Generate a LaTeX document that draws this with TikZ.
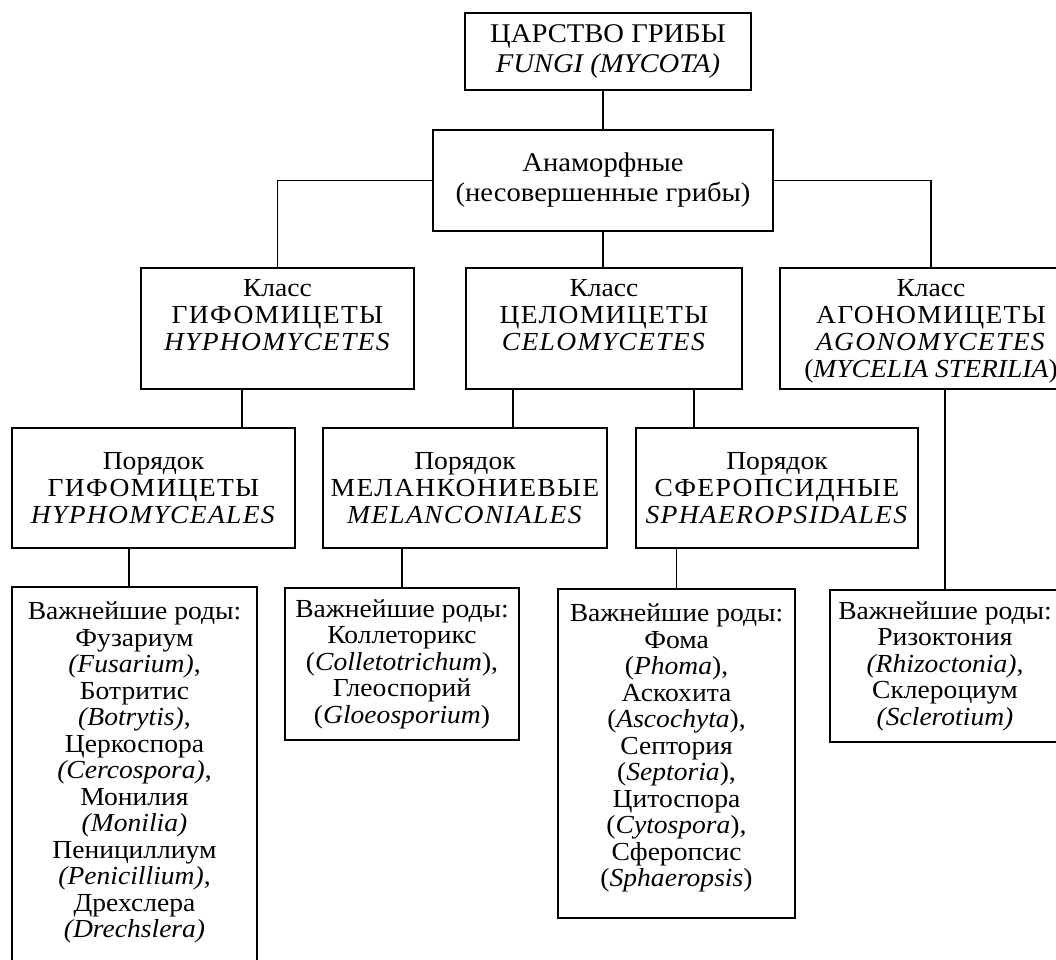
\documentclass[tikz,border=0pt]{standalone}
\usepackage{fontspec}
\setmainfont{Liberation Serif}[FakeStretch=1.06]
\usetikzlibrary{calc}
\tikzset{
  bx/.style={draw, line width=1.9pt, inner sep=0pt, outer sep=0pt},
  ln/.style={line width=1.9pt},
  big/.style={font={\fontsize{27}{30}\selectfont}},
  mid/.style={font={\fontsize{26}{27}\selectfont}},
  sml/.style={font={\fontsize{26}{26.5}\selectfont}},
}
\newcommand{\cbox}[3]{\parbox[c][#2][c]{#1}{\centering #3\par}}
\newcommand{\tbox}[4]{\parbox[c][#2][t]{#1}{\centering\vspace*{#3}#4\par}}
\newcommand{\lsp}[1]{{\addfontfeatures{LetterSpace=5}#1}}
\begin{document}
\begin{tikzpicture}[x=1pt,y=-1pt]
\useasboundingbox (0,0) rectangle (1056,959);
\fill[white] (0,0) rectangle (1056,959);
\clip (0,0) rectangle (1056,959);

% row 1 and 2
\node[bx,big] (top) at (608,51.5) {\cbox{286pt}{77pt}{ЦАРСТВО ГРИБЫ\\\textit{FUNGI (MYCOTA)}}};
\node[bx,big] (anam) at (603,180.5) {\cbox{340pt}{101pt}{Анаморфные\\(несовершенные грибы)}};

% classes
\node[bx,mid] (hcls) at (277.5,328.5) {\tbox{273pt}{121pt}{11pt}{Класс\\\lsp{ГИФОМИЦЕТЫ}\\\textit{\lsp{HYPHOMYCETES}}}};
\node[bx,mid] (ccls) at (604,328.5) {\tbox{276pt}{121pt}{11pt}{Класс\\\lsp{ЦЕЛОМИЦЕТЫ}\\\textit{\lsp{CELOMYCETES}}}};
\node[bx,mid] (acls) at (931,328.5) {\tbox{302pt}{121pt}{11pt}{Класс\\\lsp{АГОНОМИЦЕТЫ}\\\textit{\lsp{AGONOMYCETES}}\\(\textit{MYCELIA STERILIA})}};

% orders
\node[bx,mid] (ho) at (153.5,488) {\cbox{283pt}{120pt}{Порядок\\\lsp{ГИФОМИЦЕТЫ}\\\textit{\lsp{HYPHOMYCEALES}}}};
\node[bx,mid] (mo) at (465,488) {\cbox{284pt}{120pt}{Порядок\\\lsp{МЕЛАНКОНИЕВЫЕ}\\\textit{\lsp{MELANCONIALES}}}};
\node[bx,mid] (so) at (777,488) {\cbox{282pt}{120pt}{Порядок\\\lsp{СФЕРОПСИДНЫЕ}\\\textit{\lsp{SPHAEROPSIDALES}}}};

% genera
\node[bx,sml] (hg) at (134.5,788.5) {\tbox{245pt}{403pt}{15pt}{Важнейшие роды:\\Фузариум\\\textit{(Fusarium)},\\Ботритис\\\textit{(Botrytis)},\\Церкоспора\\\textit{(Cercospora)},\\Монилия\\\textit{(Monilia)}\\Пенициллиум\\\textit{(Penicillium)},\\Дрехслера\\\textit{(Drechslera)}}};
\node[bx,sml] (mg) at (402,664) {\cbox{234pt}{152pt}{Важнейшие роды:\\Коллеторикс\\(\textit{Colletotrichum}),\\Глеоспорий\\(\textit{Gloeosporium})}};
\node[bx,sml] (sg) at (676.5,753.5) {\tbox{237pt}{329pt}{15pt}{Важнейшие роды:\\Фома\\(\textit{Phoma}),\\Аскохита\\(\textit{Ascochyta}),\\Септория\\(\textit{Septoria}),\\Цитоспора\\(\textit{Cytospora}),\\Сферопсис\\(\textit{Sphaeropsis})}};
\node[bx,sml] (ag) at (945,666) {\cbox{230pt}{152pt}{Важнейшие роды:\\Ризоктония\\\textit{(Rhizoctonia)},\\Склероциум\\\textit{(Sclerotium)}}};

% x positions of off-centre connectors
\coordinate (xh) at (242,0);
\coordinate (xm) at (513,0);
\coordinate (xs) at (694,0);
\coordinate (xg) at (129,0);

% connectors
\draw[ln] (anam.north) -- (anam.north |- top.south);
\draw[ln] (anam.south) -- (anam.south |- ccls.north);
\draw[ln] (anam.west) -| (hcls.north);
\draw[ln] (anam.east) -| (acls.north);
\draw[ln] (hcls.south -| xh) -- (ho.north -| xh);
\draw[ln] (ccls.south -| xm) -- (mo.north -| xm);
\draw[ln] (ccls.south -| xs) -- (so.north -| xs);
\draw[ln] (ho.south -| xg) -- (hg.north -| xg);
\draw[ln] (mo.south -| mg.north) -- (mg.north);
\draw[ln] (so.south -| sg.north) -- (sg.north);
\draw[ln] (acls.south -| ag.north) -- (ag.north);
\end{tikzpicture}
\end{document}
